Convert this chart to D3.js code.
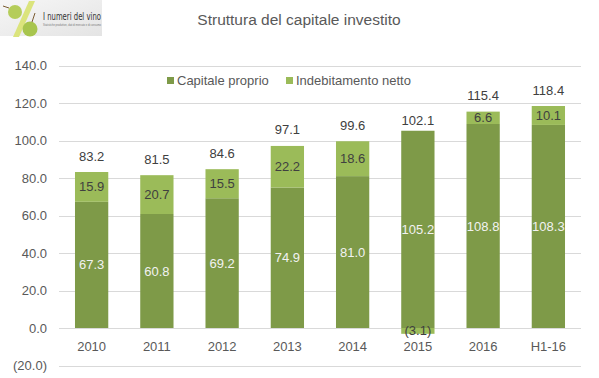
<!DOCTYPE html>
<html><head><meta charset="utf-8">
<script src="https://cdn.jsdelivr.net/npm/d3@7"></script>
<style>body{margin:0;background:#fff}svg{display:block;font-family:"Liberation Sans",Arial,sans-serif}</style>
</head><body>
<script>
const categories = ["2010","2011","2012","2013","2014","2015","2016","H1-16"];
const capitaleProprio = [67.3,60.8,69.2,74.9,81.0,105.2,108.8,108.3];
const indebitamento = [15.9,20.7,15.5,22.2,18.6,-3.1,6.6,10.1];
const totali = [83.2,81.5,84.6,97.1,99.6,102.1,115.4,118.4];
const yTicks = [-20,0,20,40,60,80,100,120,140];
const seriesNames = ["Capitale proprio","Indebitamento netto"];
const title = "Struttura del capitale investito";

const W=599,H=378;
const svg=d3.select("body").append("svg").attr("width",W).attr("height",H);
const c1="#7E9A48", c2="#9BBB59", txt="#595959";

// logo
const defs=svg.append("defs");
const lg=defs.append("linearGradient").attr("id","lg").attr("x1",0).attr("x2",1).attr("y1",0).attr("y2",1);
lg.append("stop").attr("offset",0).attr("stop-color","#f6f6f6");
lg.append("stop").attr("offset",1).attr("stop-color","#e4e4e4");
const logo=svg.append("g");
logo.append("rect").attr("x",0).attr("y",0).attr("width",102).attr("height",36).attr("fill","url(#lg)");
logo.append("path").attr("d","M29,1 L35,1 L19,37 L13,37 Z").attr("fill","#dbe47c");
logo.append("circle").attr("cx",15).attr("cy",12).attr("r",7).attr("fill","#b5cd5a");
logo.append("circle").attr("cx",30).attr("cy",29).attr("r",7.5).attr("fill","#a8c54e");
logo.append("path").attr("d","M9,8 L3,6").attr("stroke","#7a5a30").attr("stroke-width",1);
logo.append("path").attr("d","M32,22 L35,13").attr("stroke","#7a5a30").attr("stroke-width",1);
logo.append("text").attr("x",43).attr("y",19.5).attr("font-size",10.5).attr("fill","#333").attr("font-family","'DejaVu Sans Condensed','Liberation Sans Narrow',sans-serif").attr("textLength",58).attr("lengthAdjust","spacingAndGlyphs").text("I numeri del vino");
logo.append("text").attr("x",43).attr("y",26).attr("font-size",2.8).attr("fill","#777").attr("textLength",58).attr("lengthAdjust","spacingAndGlyphs").text("Statistiche produttive, dati di mercato e di consumo");

// title
svg.append("text").attr("x",299).attr("y",25).attr("text-anchor","middle").attr("font-size",15.5).attr("fill",txt).text(title);

const x=d3.scaleBand().domain(categories).range([59,581]).paddingInner(0.49).paddingOuter(0.245);
const y=d3.scaleLinear().domain([-20,140]).range([365.5,65.5]);
const fmt=v=>v<0?"("+d3.format(".1f")(-v)+")":d3.format(".1f")(v);

// grid
svg.append("g").selectAll("line").data(yTicks).join("line")
 .attr("x1",59).attr("x2",581).attr("y1",d=>Math.round(y(d))+0.5).attr("y2",d=>Math.round(y(d))+0.5)
 .attr("stroke","#d9d9d9").attr("stroke-width",1);
svg.append("g").selectAll("text").data(yTicks).join("text")
 .attr("x",47).attr("y",d=>y(d)).attr("dy","0.35em").attr("text-anchor","end")
 .attr("font-size",13).attr("fill",txt).text(fmt);

// x labels
svg.append("g").selectAll("text").data(categories).join("text")
 .attr("x",d=>x(d)+x.bandwidth()/2).attr("y",346).attr("dy","0.35em").attr("text-anchor","middle")
 .attr("font-size",13).attr("fill",txt).text(d=>d);

// bars
const g=svg.append("g");
categories.forEach((c,i)=>{
  const a=capitaleProprio[i], b=indebitamento[i];
  g.append("rect").attr("x",x(c)).attr("width",x.bandwidth()).attr("y",y(a)).attr("height",y(0)-y(a)).attr("fill",c1);
  let b0,b1;
  if(b>=0){b0=a;b1=a+b;}else{b0=b;b1=0;}
  g.append("rect").attr("x",x(c)).attr("width",x.bandwidth()).attr("y",y(b1)).attr("height",y(b0)-y(b1)).attr("fill",c2);
  const cx=x(c)+x.bandwidth()/2;
  g.append("text").attr("x",cx).attr("y",y(a/2)).attr("dy","0.35em").attr("text-anchor","middle").attr("font-size",13).attr("fill","#f2f2f2").text(fmt(a));
  g.append("text").attr("x",cx).attr("y",y((b0+b1)/2)).attr("dy","0.35em").attr("text-anchor","middle").attr("font-size",13).attr("fill","#404040").text(fmt(b));
  g.append("text").attr("x",cx).attr("y",y(totali[i])-16).attr("dy","0.35em").attr("text-anchor","middle").attr("font-size",13).attr("fill","#404040").text(fmt(totali[i]));
});

// legend
const legX=[167,286];
const lgd=svg.append("g");
seriesNames.forEach((n,i)=>{
  lgd.append("rect").attr("x",legX[i]).attr("y",77).attr("width",7).attr("height",7).attr("fill",i?c2:c1);
  lgd.append("text").attr("x",legX[i]+10).attr("y",80.5).attr("dy","0.35em").attr("font-size",13).attr("fill",txt).text(n);
});
</script>
</body></html>
